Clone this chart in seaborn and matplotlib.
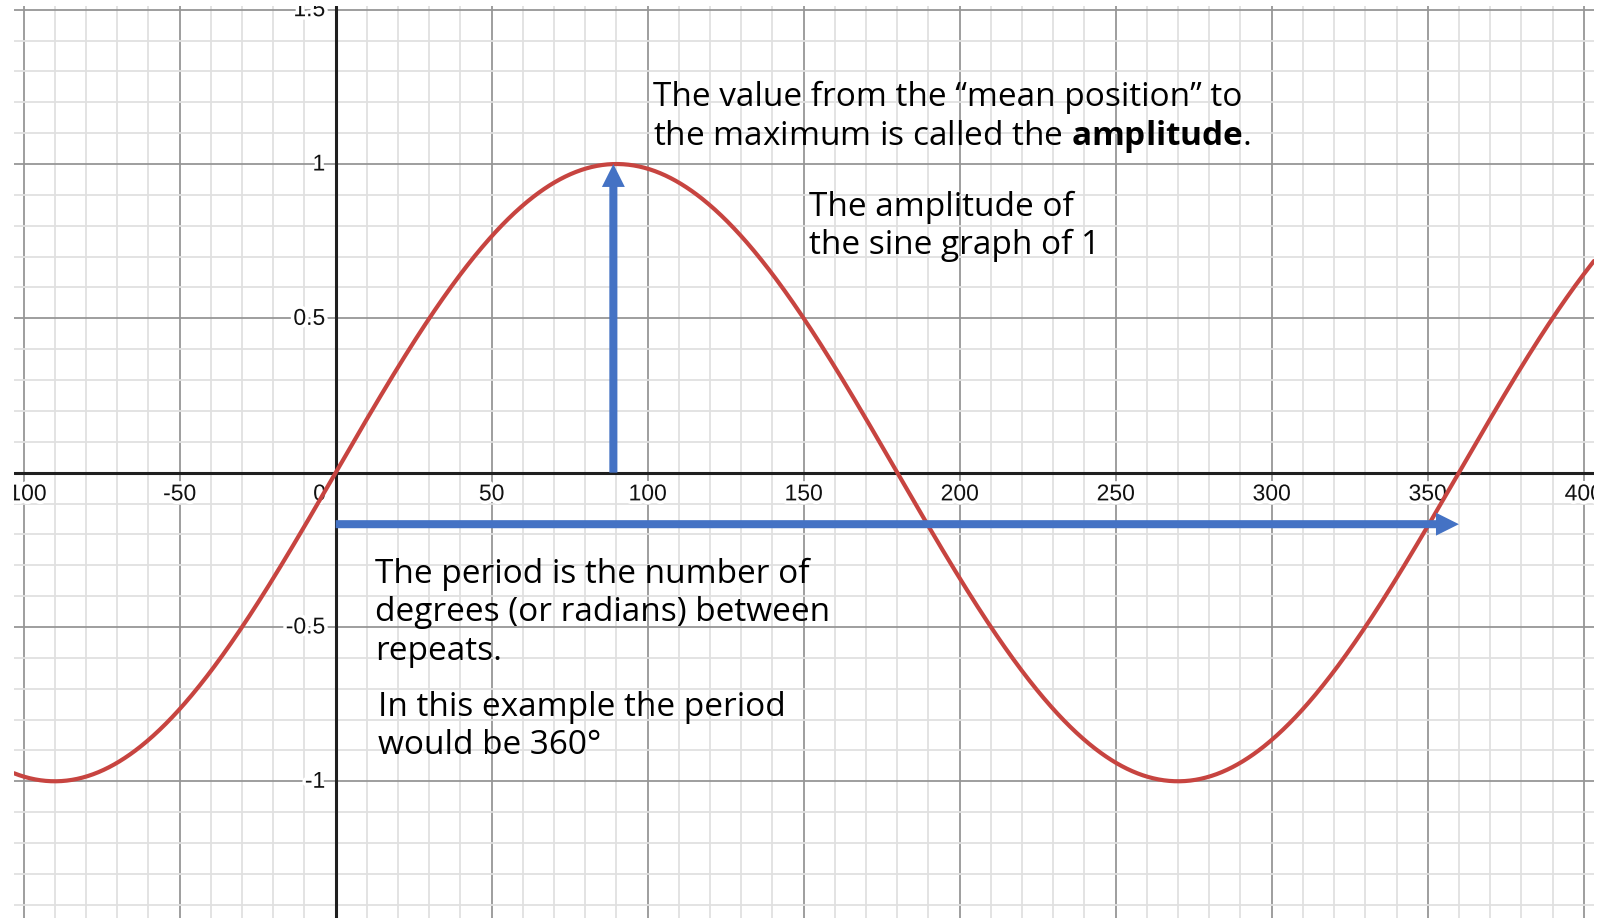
import numpy as np
import pandas as pd
import matplotlib
matplotlib.use("Agg")
import matplotlib.pyplot as plt
import seaborn as sns
from matplotlib.patches import FancyArrowPatch, ArrowStyle
from matplotlib import patheffects as pe
from matplotlib.ticker import MultipleLocator

# ---- data -------------------------------------------------------------
AMPLITUDE = 1.0
PERIOD = 360  # degrees
X_RANGE = (-103.1, 403.3)
Y_RANGE = (-1.443, 1.512)

X_TICKS = [-100, -50, 0, 50, 100, 150, 200, 250, 300, 350, 400]
X_TICK_LABELS = ["-100", "-50", "0", "50", "100", "150", "200", "250", "300", "350", "400"]
Y_TICKS = [-1, -0.5, 0.5, 1, 1.5]
Y_TICK_LABELS = ["-1", "-0.5", "0.5", "1", "1.5"]

AMP_ARROW_X = 89
PERIOD_ARROW_Y = -0.167

x_deg = np.linspace(X_RANGE[0], X_RANGE[1], 1500)
curve = pd.DataFrame({"x": x_deg,
                      "y": AMPLITUDE * np.sin(2 * np.pi * x_deg / PERIOD)})

# ---- style ------------------------------------------------------------
sns.set_theme(style="white")
TEXT_FONT = "Open Sans"
plt.rcParams["font.family"] = [TEXT_FONT, "DejaVu Sans"]
plt.rcParams["mathtext.fontset"] = "custom"
plt.rcParams["mathtext.rm"] = TEXT_FONT
plt.rcParams["mathtext.bf"] = TEXT_FONT + ":bold"

RED = "#c74440"
BLUE = "#4472c4"
AXIS_COL = "#1f1f1f"

fig = plt.figure(figsize=(15.99, 9.18), dpi=100)
ax = fig.add_axes([14 / 1599, 0, 1580 / 1599, 912 / 918])

# the sine curve
sns.lineplot(data=curve, x="x", y="y", color=RED, lw=3.0, ax=ax, zorder=3,
             sort=False, estimator=None)
ax.set_xlabel("")
ax.set_ylabel("")

# grid: major every 50 / 0.5, minor every 10 / 0.1
ax.set_xticks(np.arange(-100, 450, 50))
ax.set_yticks(np.arange(-1.5, 2.0, 0.5))
ax.xaxis.set_minor_locator(MultipleLocator(10))
ax.yaxis.set_minor_locator(MultipleLocator(0.1))
ax.grid(which="major", color="#969696", lw=1.3)
ax.grid(which="minor", color="#e0e0e0", lw=1.3)
ax.set_axisbelow(True)
ax.tick_params(which="both", length=0, labelbottom=False, labelleft=False)
for s in ax.spines.values():
    s.set_visible(False)

ax.axhline(0, color=AXIS_COL, lw=2.2, zorder=1.5)
ax.axvline(0, color=AXIS_COL, lw=2.2, zorder=1.5)

# axis numbers with a white halo
halo = [pe.withStroke(linewidth=5, foreground="white")]
lab_kw = dict(fontsize=16.5, family="Liberation Sans", color="#111111",
              textcoords="offset points", zorder=2.5, path_effects=halo,
              clip_on=True, annotation_clip=False)
for v, lab in zip(X_TICKS, X_TICK_LABELS):
    if v == 0:
        ax.annotate(lab, xy=(v, 0), xytext=(-7, -15.3), ha="right", va="center", **lab_kw)
    else:
        ax.annotate(lab, xy=(v, 0), xytext=(0, -15.3), ha="center", va="center", **lab_kw)
for v, lab in zip(Y_TICKS, Y_TICK_LABELS):
    ax.annotate(lab, xy=(0, v), xytext=(-7.5, 0), ha="right", va="center", **lab_kw)

# arrows for amplitude and period
arrow_style = ArrowStyle.Simple(head_length=16.5, head_width=16.5, tail_width=5.8)
ax.add_patch(FancyArrowPatch((AMP_ARROW_X, 0), (AMP_ARROW_X, AMPLITUDE),
                             arrowstyle=arrow_style, mutation_scale=1,
                             color=BLUE, lw=0, shrinkA=0, shrinkB=0, zorder=4))
ax.add_patch(FancyArrowPatch((0, PERIOD_ARROW_Y), (PERIOD, PERIOD_ARROW_Y),
                             arrowstyle=arrow_style, mutation_scale=1,
                             color=BLUE, lw=0, shrinkA=0, shrinkB=0, zorder=4))

# explanatory notes
FS = 24
note_kw = dict(fontsize=FS, color="black", va="baseline", ha="left", zorder=5)
ax.text(101.6, 1.188, "The value from the \u201cmean position\u201d to", **note_kw)
ax.text(101.6, 1.063, r"the maximum is called the $\mathbf{amplitude}$.", **note_kw)
ax.text(151.6, 0.832, "The amplitude of", **note_kw)
ax.text(151.6, 0.707, "the sine graph of 1", **note_kw)
ax.text(12.6, -0.356, "The period is the number of", **note_kw)
ax.text(12.6, -0.482, "degrees (or radians) between", **note_kw)
ax.text(12.6, -0.607, "repeats.", **note_kw)
ax.text(13.6, -0.788, "In this example the period", **note_kw)
ax.text(13.6, -0.910, "would be 360\u00b0", **note_kw)

# fixed viewing window
ax.set_xlim(*X_RANGE)
ax.set_ylim(*Y_RANGE)

fig.savefig("out.png", dpi=100, facecolor="white")
